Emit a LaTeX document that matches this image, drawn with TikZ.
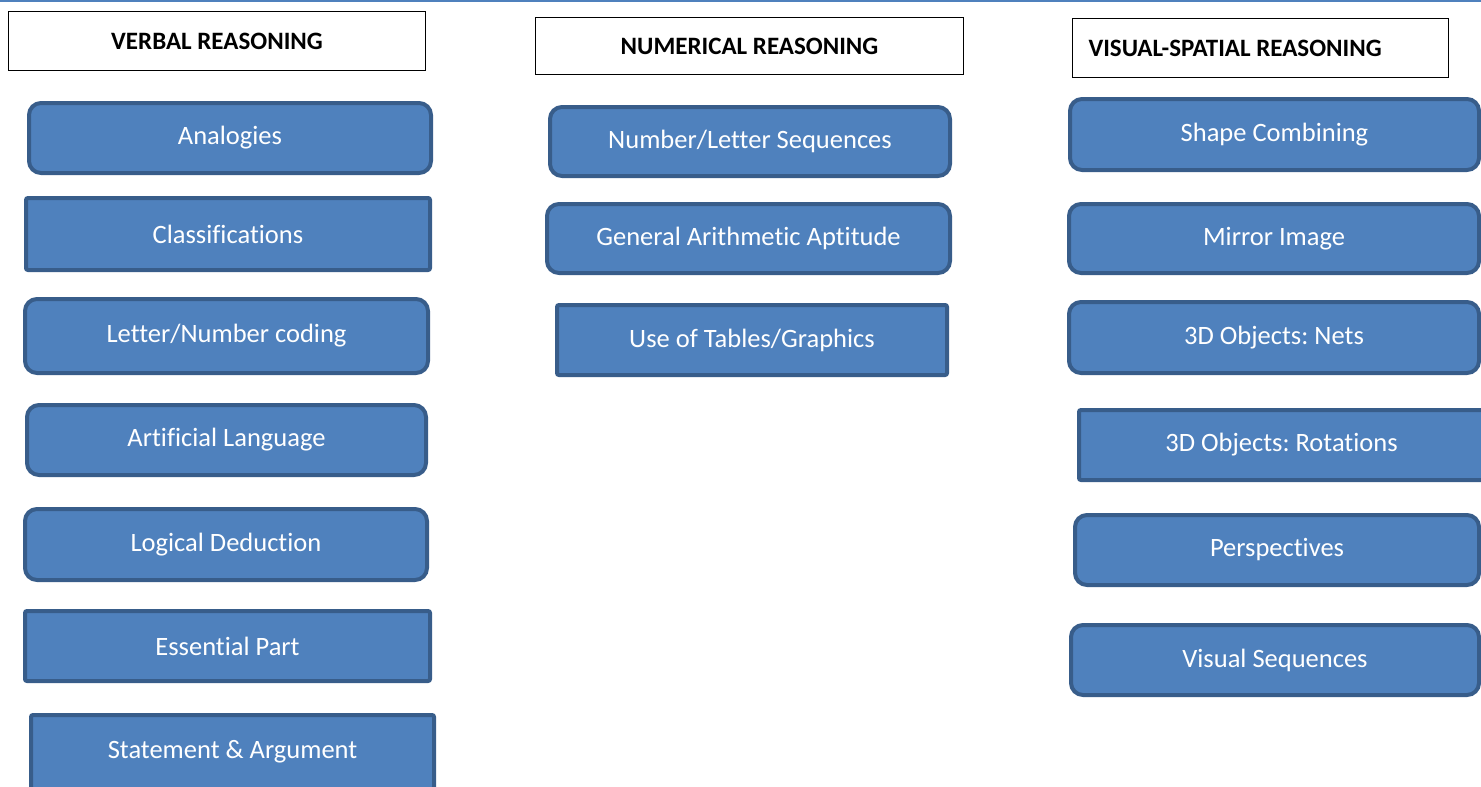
\documentclass[tikz,border=0pt]{standalone}
\usepackage{fontspec}
\setmainfont[Ligatures={NoCommon}]{Carlito}
\usepackage{tikz}
\usetikzlibrary{positioning}
\definecolor{BoxFill}{RGB}{79,129,189}
\definecolor{BoxEdge}{RGB}{56,93,138}
\frenchspacing

\begin{document}
\begin{tikzpicture}[
  x=1pt, y=-1pt,
  headbox/.style={
    rectangle, draw=black, line width=1.6pt, fill=white,
    inner sep=0pt, align=center, font=\fontsize{25}{29}\selectfont\bfseries
  },
  roundbox/.style={
    rectangle, draw=BoxEdge, line width=4pt, fill=BoxFill, rounded corners=12pt,
    minimum width=402pt, minimum height=70pt, inner sep=0pt, align=center,
    text=white, font=\fontsize{26.5}{30}\selectfont
  },
  flatbox/.style={
    roundbox, rounded corners=2pt
  }
]
\clip (0,0) rectangle (1481,787);
\fill[white] (0,0) rectangle (1481,787);
\draw[BoxFill, line width=2pt] (0,1) -- (1481,1);

% --- Headers (top row)
\node[headbox, minimum width=417pt, minimum height=59pt] (verbal) at (217, 41)  {VERBAL REASONING};
\node[headbox, minimum width=428pt, minimum height=57pt] (numer)  at (749.5, 46) {NUMERICAL REASONING};
\node[headbox, minimum width=376pt, minimum height=59pt, align=flush left,
      text width=344pt, inner xsep=16pt] (visual) at (1260.5, 48) {VISUAL-SPATIAL REASONING};

% --- Verbal column
\node[roundbox, minimum width=402pt, minimum height=70pt] (analog) at (230, 138)   {Analogies};
\node[flatbox,  minimum width=404pt, minimum height=72pt] (classif) at (228, 234)  {Classifications};
\node[roundbox, minimum width=403pt, minimum height=74pt] (coding) at (226.5, 336) {Letter/Number coding};
\node[roundbox, minimum width=399pt, minimum height=70pt] (artlang) at (226.5, 440) {Artificial Language};
\node[roundbox, minimum width=402pt, minimum height=71pt] (logic) at (226, 544.5)   {Logical Deduction};
\node[flatbox,  minimum width=405pt, minimum height=70pt] (essent) at (227.5, 646) {Essential Part};
\node[flatbox,  minimum width=403pt, minimum height=74pt] (statem) at (232.5, 752) {Statement \& Argument};

% --- Numerical column
\node[roundbox, minimum width=400pt, minimum height=69pt] (numseq) at (750, 141.5)  {Number/Letter Sequences};
\node[roundbox, minimum width=403pt, minimum height=69pt] (arith)  at (748.5, 238.5) {General Arithmetic Aptitude};
\node[flatbox,  minimum width=390pt, minimum height=70pt] (tables) at (752, 340)     {Use of Tables/Graphics};

% --- Visual-spatial column
\node[roundbox, minimum width=409pt, minimum height=71pt] (shapes) at (1274.5, 134.5) {Shape Combining};
\node[roundbox, minimum width=410pt, minimum height=69pt] (mirror) at (1274, 238.5)   {Mirror Image};
\node[roundbox, minimum width=410pt, minimum height=71pt] (nets)   at (1274, 337.5)   {3D Objects: Nets};
\node[flatbox,  minimum width=405pt, minimum height=70pt] (rotat)  at (1281.5, 445)   {3D Objects: Rotations};
\node[roundbox, minimum width=404pt, minimum height=70pt] (persp)  at (1277, 550)     {Perspectives};
\node[roundbox, minimum width=408pt, minimum height=70pt] (vseq)   at (1275, 660)     {Visual Sequences};

\end{tikzpicture}
\end{document}
